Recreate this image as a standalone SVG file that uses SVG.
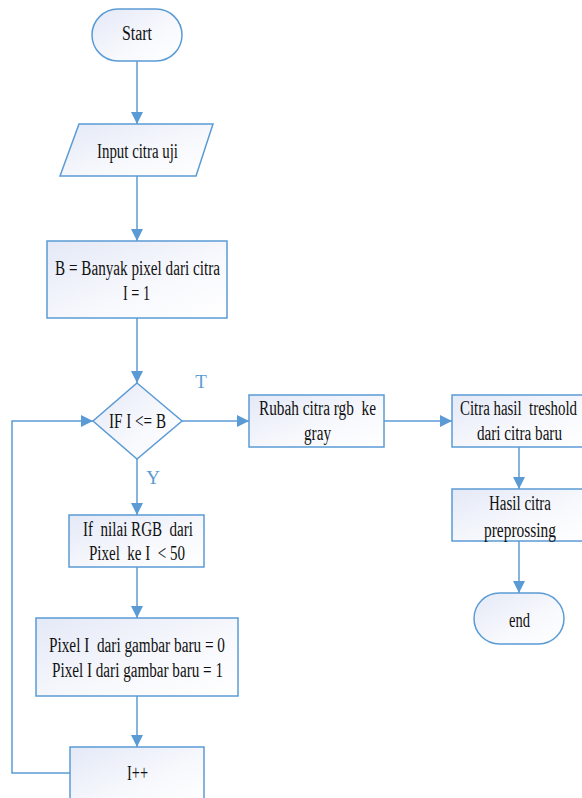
<svg xmlns="http://www.w3.org/2000/svg" width="582" height="798" viewBox="0 0 582 798">
<defs>
<linearGradient id="g" x1="0" y1="0" x2="1" y2="1">
<stop offset="0" stop-color="#e4e9f7"/>
<stop offset="0.6" stop-color="#f8f9fd"/>
<stop offset="1" stop-color="#ffffff"/>
</linearGradient>
<marker id="ah" markerUnits="userSpaceOnUse" markerWidth="12" markerHeight="12" viewBox="0 0 10 10" refX="10" refY="5" orient="auto">
<path d="M0,0 L10,5 L0,10 z" fill="#5b9bd5"/>
</marker>
<style>
.n{fill:url(#g);stroke:#5b9bd5;stroke-width:1.5}
.t{font-family:"Liberation Serif","Times New Roman",serif;font-size:20px;fill:#111;text-anchor:middle;white-space:pre}
.l{font-family:"Liberation Serif","Times New Roman",serif;font-size:19px;fill:#5b9bd5;text-anchor:middle}
.c{fill:none;stroke:#5b9bd5;stroke-width:1.5;marker-end:url(#ah)}
</style>
</defs>
<g id="connectors">
<path class="c" d="M137,61 V124"/>
<path class="c" d="M137,176 V241"/>
<path class="c" d="M137,318 V383"/>
<path class="c" d="M182,421 H249"/>
<path class="c" d="M384,421 H452"/>
<path class="c" d="M519,447 V489"/>
<path class="c" d="M519,541 V593"/>
<path class="c" d="M137,459 V515"/>
<path class="c" d="M137,567 V618"/>
<path class="c" d="M137,696 V747"/>
<path class="c" d="M70,773 H12 V421 H93"/>
<text class="l" x="201" y="388">T</text>
<text class="l" x="153" y="484">Y</text>
</g>
<g id="start">
<rect class="n" x="92" y="9" width="90" height="52" rx="26"/>
<text class="t" x="137" y="40" textLength="30" lengthAdjust="spacingAndGlyphs">Start</text>
</g>
<g id="input">
<polygon class="n" points="79,124 213,124 196,176 60,176"/>
<text class="t" x="137.5" y="158" textLength="81" lengthAdjust="spacingAndGlyphs">Input citra uji</text>
</g>
<g id="init">
<rect class="n" x="47" y="241" width="180" height="77"/>
<text class="t" x="137.5" y="275" textLength="165" lengthAdjust="spacingAndGlyphs">B = Banyak pixel dari citra</text>
<text class="t" x="136.5" y="300" textLength="27" lengthAdjust="spacingAndGlyphs">I = 1</text>
</g>
<g id="decision">
<polygon class="n" points="137,383 182,421 137,459 93,421"/>
<text class="t" x="137.5" y="428" textLength="57" lengthAdjust="spacingAndGlyphs">IF I &lt;= B</text>
</g>
<g id="rubah">
<rect class="n" x="249" y="395" width="135" height="52"/>
<text class="t" x="317.5" y="415" textLength="117" lengthAdjust="spacingAndGlyphs">Rubah citra rgb  ke</text>
<text class="t" x="317.5" y="440" textLength="27" lengthAdjust="spacingAndGlyphs">gray</text>
</g>
<g id="citra">
<rect class="n" x="452" y="395" width="134" height="52"/>
<text class="t" x="518.5" y="415" textLength="117" lengthAdjust="spacingAndGlyphs">Citra hasil  treshold</text>
<text class="t" x="519.5" y="440" textLength="85" lengthAdjust="spacingAndGlyphs">dari citra baru</text>
</g>
<g id="hasil">
<rect class="n" x="452" y="489" width="134" height="52"/>
<text class="t" x="520" y="510" textLength="62" lengthAdjust="spacingAndGlyphs">Hasil citra</text>
<text class="t" x="520" y="537" textLength="72" lengthAdjust="spacingAndGlyphs">preprossing</text>
</g>
<g id="end">
<rect class="n" x="474" y="593" width="90" height="51" rx="25.5"/>
<text class="t" x="519.5" y="627" textLength="21" lengthAdjust="spacingAndGlyphs">end</text>
</g>
<g id="ifnilai">
<rect class="n" x="69" y="515" width="135" height="52"/>
<text class="t" x="138" y="536" textLength="110" lengthAdjust="spacingAndGlyphs">If  nilai RGB  dari</text>
<text class="t" x="137" y="560" textLength="96" lengthAdjust="spacingAndGlyphs">Pixel  ke I  &lt; 50</text>
</g>
<g id="pixel">
<rect class="n" x="36" y="618" width="202" height="78"/>
<text class="t" x="137" y="652" textLength="176" lengthAdjust="spacingAndGlyphs">Pixel I  dari gambar baru = 0</text>
<text class="t" x="137.5" y="677" textLength="171" lengthAdjust="spacingAndGlyphs">Pixel I dari gambar baru = 1</text>
</g>
<g id="inc">
<rect class="n" x="70" y="747" width="134" height="60"/>
<text class="t" x="137.5" y="780" textLength="21" lengthAdjust="spacingAndGlyphs">I++</text>
</g>
</svg>
